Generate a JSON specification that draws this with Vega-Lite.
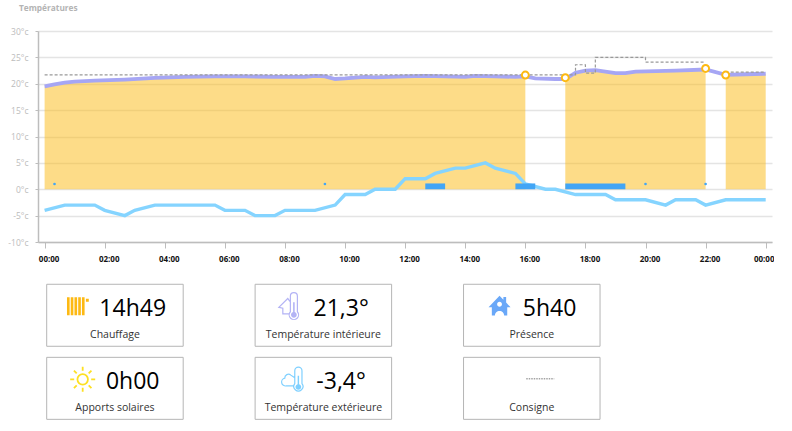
{
"$schema":"https://vega.github.io/schema/vega-lite/v6.json",
"padding":{"left":7,"top":3,"right":0,"bottom":0},
"background":"white",
"spacing":9,
"config":{"font":"Open Sans","view":{"stroke":null}},
"datasets":{
"interior":[
{"t":0,"v":19.5,"p":"a"},{"t":0.33,"v":19.9,"p":"a"},{"t":0.67,"v":20.2,"p":"a"},{"t":1,"v":20.4,"p":"a"},{"t":1.67,"v":20.6,"p":"a"},{"t":2.67,"v":20.8,"p":"a"},{"t":3.67,"v":21.1,"p":"a"},{"t":4.67,"v":21.3,"p":"a"},{"t":5.67,"v":21.4,"p":"a"},{"t":6.67,"v":21.4,"p":"a"},{"t":7.67,"v":21.3,"p":"a"},{"t":8.67,"v":21.3,"p":"a"},{"t":9,"v":21.5,"p":"a"},{"t":9.33,"v":21.4,"p":"a"},{"t":9.67,"v":20.9,"p":"a"},{"t":10,"v":21.0,"p":"a"},{"t":10.67,"v":21.3,"p":"a"},{"t":11,"v":21.2,"p":"a"},{"t":12,"v":21.4,"p":"a"},{"t":12.67,"v":21.5,"p":"a"},{"t":14,"v":21.3,"p":"a"},{"t":14.33,"v":21.5,"p":"a"},{"t":15,"v":21.4,"p":"a"},{"t":15.67,"v":21.3,"p":"a"},{"t":16,"v":21.4,"p":"a"},
{"t":16.33,"v":21.0},{"t":17,"v":20.9},
{"t":17.33,"v":20.9,"p":"b"},{"t":17.67,"v":22.1,"p":"b"},{"t":18,"v":22.5,"p":"b"},{"t":18.33,"v":22.6,"p":"b"},{"t":19,"v":22.0,"p":"b"},{"t":19.33,"v":22.0,"p":"b"},{"t":19.67,"v":22.3,"p":"b"},{"t":21,"v":22.5,"p":"b"},{"t":22,"v":22.7,"p":"b"},
{"t":22.67,"v":21.7,"p":"c"},{"t":23.33,"v":21.8,"p":"c"},{"t":24,"v":21.9,"p":"c"}],
"outdoor":[
{"t":0,"v":-4},{"t":0.67,"v":-3},{"t":1.67,"v":-3},{"t":2,"v":-4},{"t":2.67,"v":-5},{"t":3,"v":-4},{"t":3.67,"v":-3},{"t":5.67,"v":-3},{"t":6,"v":-4},{"t":6.67,"v":-4},{"t":7,"v":-5},{"t":7.67,"v":-5},{"t":8,"v":-4},{"t":9,"v":-4},{"t":9.67,"v":-3},{"t":10,"v":-1},{"t":10.67,"v":-1},{"t":11,"v":0},{"t":11.67,"v":0},{"t":12,"v":2},{"t":12.67,"v":2},{"t":13,"v":3},{"t":13.67,"v":4},{"t":14,"v":4},{"t":14.67,"v":5},{"t":15,"v":4},{"t":15.67,"v":3},{"t":16,"v":1},{"t":16.67,"v":0},{"t":17,"v":0},{"t":17.67,"v":-1},{"t":18.67,"v":-1},{"t":19,"v":-2},{"t":20,"v":-2},{"t":20.67,"v":-3},{"t":21,"v":-2},{"t":21.67,"v":-2},{"t":22,"v":-3},{"t":22.67,"v":-2},{"t":24,"v":-2}],
"setpoint":[
{"t":0,"v":21.7,"s":"a"},{"t":17.67,"v":23.6,"s":"a"},{"t":18,"v":22,"s":"a"},{"t":18.33,"v":25,"s":"a"},{"t":20,"v":24.1,"s":"a"},{"t":22,"v":24.1,"s":"a"},
{"t":22.67,"v":22.2,"s":"b"},{"t":24,"v":22.2,"s":"b"}],
"presence":[
{"from":12.67,"to":13.33,"low":0,"high":1.1},{"from":15.67,"to":16.33,"low":0,"high":1.1},{"from":17.33,"to":19.33,"low":0,"high":1.1}],
"dots":[{"t":0.33,"v":1},{"t":9.33,"v":1},{"t":20,"v":1},{"t":22,"v":1}],
"switches":[{"t":16,"v":21.65},{"t":17.33,"v":21.15},{"t":22,"v":22.9},{"t":22.67,"v":21.65}],
"cards":[
{"label":"Chauffage","value":"14h49","col":0,"row":0},
{"label":"Température intérieure","value":"21,3°","col":1,"row":0},
{"label":"Présence","value":"5h40","col":2,"row":0},
{"label":"Apports solaires","value":"0h00","col":0,"row":1},
{"label":"Température extérieure","value":"-3,4°","col":1,"row":1},
{"label":"Consigne","value":"","col":2,"row":1}]
},
"vconcat":[
{
"width":734,"height":211,
"title":{"text":"Températures","anchor":"start","frame":"group","fontSize":8.3,"fontWeight":"bold","color":"#b4b4b4","dx":-19,"offset":15},
"encoding":{
"x":{"field":"t","type":"quantitative","title":null,
"scale":{"domain":[-0.22,24.21],"nice":false,"zero":false},
"axis":{"values":[0,2,4,6,8,10,12,14,16,18,20,22,24],"labelExpr":"(datum.value%24<10?'0':'')+(datum.value%24)+':00'","grid":false,"domainColor":"#bdbdbd","domainWidth":1.5,"tickColor":"#bdbdbd","tickSize":6,"labelColor":"#111111","labelFontSize":8,"labelFontWeight":"bold","labelPadding":7,"labelFlush":false,"labelOverlap":false,"labelOffset":{"expr":"datum.value==24 ? -2 : 4"}}},
"y":{"field":"v","type":"quantitative","title":null,
"scale":{"domain":[-10,30],"nice":false},
"axis":{"values":[-10,-5,0,5,10,15,20,25,30],"labelExpr":"datum.value+'°c'","gridColor":"#e4e4e4","gridWidth":1.5,"domainColor":"#bdbdbd","domainWidth":1.5,"tickColor":"#bdbdbd","tickSize":3,"labelColor":"#bcbcbc","labelFontSize":8.5,"labelPadding":7}}
},
"layer":[
{"data":{"name":"interior"},"transform":[{"filter":"datum.p!=null"}],"mark":{"type":"area","color":"#fcb912","opacity":0.5},"encoding":{"y2":{"datum":0},"detail":{"field":"p"}}},
{"data":{"name":"dots"},"mark":{"type":"point","filled":true,"color":"#42a5f5","size":7,"opacity":1}},
{"data":{"name":"interior"},"mark":{"type":"line","color":"#a6a6f4","strokeWidth":3.8}},
{"data":{"name":"setpoint"},"mark":{"type":"line","color":"#999999","strokeWidth":1.2,"strokeDash":[3,2],"interpolate":"step-after"},"encoding":{"detail":{"field":"s"}}},
{"data":{"name":"outdoor"},"mark":{"type":"line","color":"#85d4ff","strokeWidth":3.4}},
{"data":{"name":"presence"},"mark":{"type":"rect","color":"#42a5f5"},"encoding":{"x":{"field":"from","type":"quantitative"},"x2":{"field":"to"},"y":{"field":"low","type":"quantitative"},"y2":{"field":"high"}}},
{"data":{"name":"switches"},"mark":{"type":"point","filled":true,"fill":"white","stroke":"#fdb913","strokeWidth":2,"size":48,"opacity":1}}
]
},
{
"width":734,"height":150,
"data":{"name":"cards"},
"encoding":{
"x":{"field":"col","type":"quantitative","axis":null,"scale":{"domain":[-0.0417,3.48],"nice":false,"zero":false}},
"y":{"field":"row","type":"quantitative","axis":null,"scale":{"domain":[1.885,-0.168],"nice":false,"zero":false}}
},
"layer":[
{"mark":{"type":"rect","width":136.5,"height":62,"xOffset":68.25,"yOffset":31,"fill":"white","stroke":"#b5b5b5","strokeWidth":1}},
{"mark":{"type":"text","xOffset":86,"yOffset":25,"fontSize":23,"color":"#000000","align":"center","baseline":"middle"},"encoding":{"text":{"field":"value"}}},
{"mark":{"type":"text","xOffset":68.25,"yOffset":51,"fontSize":10.5,"color":"#333333","align":"center","baseline":"middle"},"encoding":{"text":{"field":"label"}}},
{"transform":[{"filter":"datum.label=='Chauffage'"}],"mark":{"type":"point","filled":true,"opacity":1,"color":"#fdb913","size":484,"xOffset":31.3,"yOffset":22,"shape":"M-1 -.82H-.76V.82H-1ZM-.66 -.82H-.42V.82H-.66ZM-.32 -.82H-.08V.82H-.32ZM.02 -.82H.26V.82H.02ZM.36 -.82H.6V.82H.36ZM.72 -.68H.98V-.42H.72Z"}},
{"transform":[{"filter":"datum.label=='Température intérieure'"}],"mark":{"type":"point","filled":false,"opacity":1,"color":"#b3b3f5","strokeWidth":1.2,"size":676,"xOffset":33.7,"yOffset":22,"shape":"M.12 .42V-.78A.27 .27 0 0 1 .66 -.78V.42A.36 .36 0 1 1 .12 .42ZM.08 -.38L-.08 -.6L-.77 .08L-.46 .15V.59H.02"}},
{"transform":[{"filter":"datum.label=='Température intérieure'"}],"mark":{"type":"point","filled":true,"opacity":1,"color":"#b3b3f5","size":676,"xOffset":33.7,"yOffset":22,"shape":"M.33 -.3H.45V.45A.22 .22 0 1 1 .33 .45Z"}},
{"transform":[{"filter":"datum.label=='Présence'"}],"mark":{"type":"point","filled":true,"opacity":1,"color":"#6aa8f8","size":484,"xOffset":36,"yOffset":22,"shape":"M0 -.95L.35 -.6V-.85H.6V-.35L1 .1H.7V.85H.42A.42 .42 0 0 0 -.42 .85H-.7V.1H-1ZM0 -.4A.22 .22 0 1 0 0 .04A.22 .22 0 1 0 0 -.4Z"}},
{"transform":[{"filter":"datum.label=='Apports solaires'"}],"mark":{"type":"point","filled":false,"opacity":1,"color":"#fde023","strokeWidth":1.8,"size":625,"xOffset":36,"yOffset":22,"shape":"M-.42 0A.42 .42 0 1 1 .42 0A.42 .42 0 1 1 -.42 0ZM0 -.68V-1M0 .68V1M-.68 0H-1M.68 0H1M-.48 -.48L-.7 -.7M.48 -.48L.7 -.7M-.48 .48L-.7 .7M.48 .48L.7 .7"}},
{"transform":[{"filter":"datum.label=='Température extérieure'"}],"mark":{"type":"point","filled":false,"opacity":1,"color":"#7fd0ff","strokeWidth":1.2,"size":576,"xOffset":38.7,"yOffset":22,"shape":"M.08 .36V-.72A.3 .3 0 0 1 .68 -.72V.36A.38 .38 0 1 1 .08 .36ZM.02 .55H-.62A.33 .33 0 0 1 -.75 -.1A.3 .3 0 0 1 -.25 -.35L.05 -.15"}},
{"transform":[{"filter":"datum.label=='Température extérieure'"}],"mark":{"type":"point","filled":true,"opacity":1,"color":"#7fd0ff","size":576,"xOffset":38.7,"yOffset":22,"shape":"M.32 -.3H.44V.4A.24 .24 0 1 1 .32 .4Z"}},
{"transform":[{"filter":"datum.label=='Consigne'"}],"mark":{"type":"point","filled":false,"opacity":1,"color":"#777777","strokeWidth":1,"strokeDash":[1.5,1],"size":784,"xOffset":76.7,"yOffset":21.5,"shape":"M-1 0H1"}}
]
}
]
}
